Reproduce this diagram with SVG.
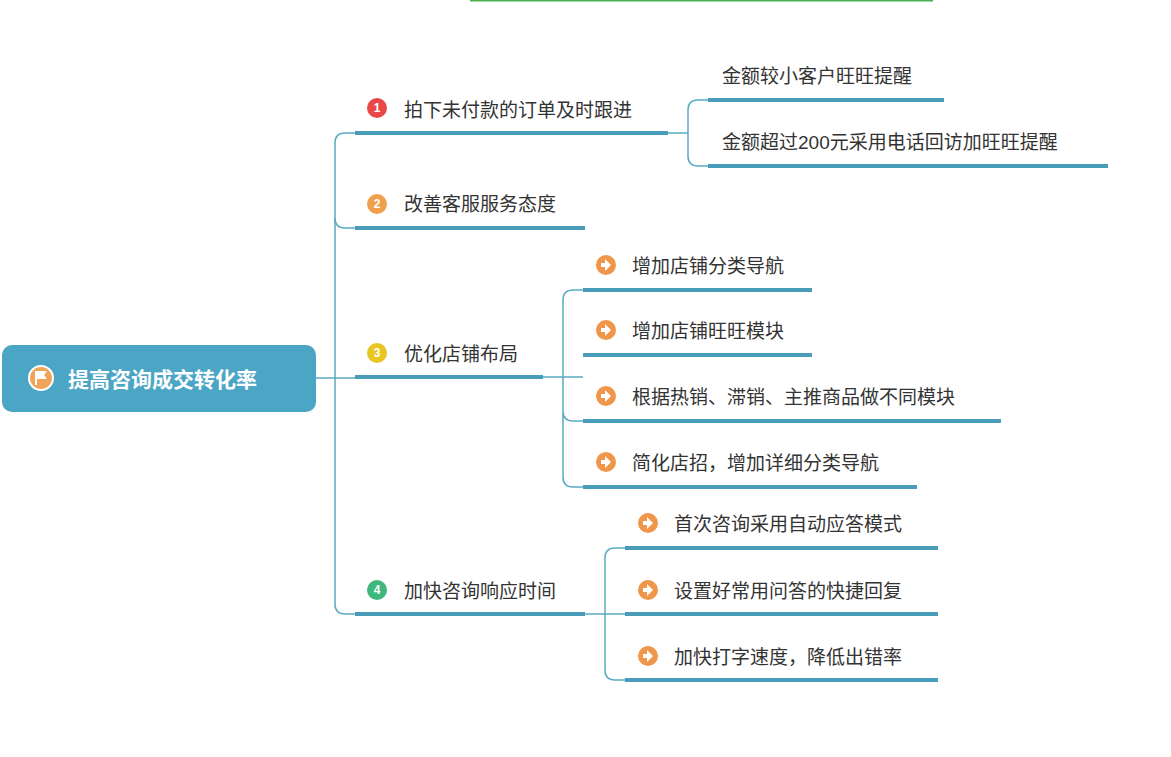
<svg xmlns="http://www.w3.org/2000/svg" width="1171" height="757" viewBox="0 0 1171 757">
<style>
.t{font-family:"Liberation Sans","Noto Sans CJK SC",sans-serif;font-size:19px;fill:#333}
.u{stroke:#4A9DB8;stroke-width:4;fill:none}
.c{stroke:#5AAAC2;stroke-width:1.5;fill:none}
.n{font-family:"Liberation Sans",sans-serif;font-size:12px;font-weight:bold;fill:#fff;text-anchor:middle}
</style>
<defs>
<g id="arr"><circle r="10" fill="#F0964A"/><path d="M-5,-2h4v-4l6,6l-6,6v-4h-4z" fill="#fff"/></g>
</defs>
<rect width="1171" height="757" fill="#fff"/>
<line x1="470" y1="0.5" x2="933" y2="0.5" stroke="#4CAF50" stroke-width="2"/>
<g id="connectors">
<path class="c" d="M316,378H355"/>
<path class="c" d="M355,133H345Q335,133 335,143V604Q335,614 345,614H355"/>
<path class="c" d="M335,218Q335,228 345,228H355"/>
<path class="c" d="M668,133H688M708,100H698Q688,100 688,110V156Q688,166 698,166H708"/>
<path class="c" d="M543,377H583M583,290H573Q563,290 563,300V477Q563,487 573,487H583M563,411Q563,421 573,421H583"/>
<path class="c" d="M585,614H625M625,548H615Q605,548 605,558V670Q605,680 615,680H625"/>
</g>
<g id="root">
<rect x="2" y="345" width="314" height="67" rx="10" fill="#4BA5C4"/>
<circle cx="41" cy="378" r="12" fill="#F0A45A" stroke="#fff" stroke-width="2"/>
<path d="M36,371v14M36,372h9l-2,3l2,3h-9" stroke="#fff" stroke-width="2" fill="#fff"/>
<text x="68" y="387" style="font-family:'Liberation Sans','Noto Sans CJK SC',sans-serif;font-size:21px;font-weight:bold;fill:#fff">提高咨询成交转化率</text>
</g>
<g id="b1"><circle cx="377" cy="108" r="10" fill="#E84848"/><text class="n" x="377" y="112">1</text><text class="t" x="404" y="117">拍下未付款的订单及时跟进</text><line class="u" x1="355" y1="133" x2="668" y2="133"/></g>
<g id="b1a"><text class="t" x="722" y="83">金额较小客户旺旺提醒</text><line class="u" x1="708" y1="100" x2="944" y2="100"/></g>
<g id="b1b"><text class="t" x="722" y="149">金额超过200元采用电话回访加旺旺提醒</text><line class="u" x1="708" y1="166" x2="1108" y2="166"/></g>
<g id="b2"><circle cx="377" cy="204" r="10" fill="#F0A04A"/><text class="n" x="377" y="208">2</text><text class="t" x="404" y="211">改善客服服务态度</text><line class="u" x1="355" y1="228" x2="585" y2="228"/></g>
<g id="b3"><circle cx="377" cy="353" r="10" fill="#E8C520"/><text class="n" x="377" y="357">3</text><text class="t" x="404" y="361">优化店铺布局</text><line class="u" x1="355" y1="377" x2="543" y2="377"/></g>
<g id="b3a"><use href="#arr" x="606" y="265"/><text class="t" x="632" y="273">增加店铺分类导航</text><line class="u" x1="583" y1="290" x2="812" y2="290"/></g>
<g id="b3b"><use href="#arr" x="606" y="330"/><text class="t" x="632" y="338">增加店铺旺旺模块</text><line class="u" x1="583" y1="355" x2="812" y2="355"/></g>
<g id="b3c"><use href="#arr" x="606" y="396"/><text class="t" x="632" y="404">根据热销、滞销、主推商品做不同模块</text><line class="u" x1="583" y1="421" x2="1001" y2="421"/></g>
<g id="b3d"><use href="#arr" x="606" y="462"/><text class="t" x="632" y="470">简化店招，增加详细分类导航</text><line class="u" x1="583" y1="487" x2="917" y2="487"/></g>
<g id="b4"><circle cx="377" cy="590" r="10" fill="#3DB87A"/><text class="n" x="377" y="594">4</text><text class="t" x="404" y="598">加快咨询响应时间</text><line class="u" x1="355" y1="614" x2="585" y2="614"/></g>
<g id="b4a"><use href="#arr" x="648" y="523"/><text class="t" x="674" y="531">首次咨询采用自动应答模式</text><line class="u" x1="625" y1="548" x2="938" y2="548"/></g>
<g id="b4b"><use href="#arr" x="648" y="590"/><text class="t" x="674" y="598">设置好常用问答的快捷回复</text><line class="u" x1="625" y1="614" x2="938" y2="614"/></g>
<g id="b4c"><use href="#arr" x="648" y="656"/><text class="t" x="674" y="664">加快打字速度，降低出错率</text><line class="u" x1="625" y1="680" x2="938" y2="680"/></g>
</svg>
